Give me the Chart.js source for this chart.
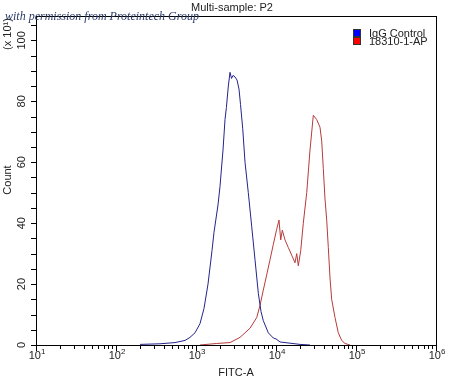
<!DOCTYPE html>
<html>
<head>
<meta charset="utf-8">
<script src="https://cdn.jsdelivr.net/npm/chart.js@4.4.1/dist/chart.umd.min.js"></script>
<style>
  html, body { margin: 0; padding: 0; background: #fff; }
  #wrap { width: 450px; height: 378px; position: relative; }
</style>
</head>
<body>
<div id="wrap"><canvas id="histChart" width="450" height="378"></canvas></div>
<script>
// IgG Control histogram (FITC-A value, count / 10)
const iggX = [200, 355, 546, 729, 841, 972, 1122, 1259, 1413, 1585, 1679, 1884, 1995, 2176, 2305, 2400,
  2535, 2661, 2780, 2901, 3073, 3255, 3448, 3600, 3837, 4100, 4507, 4966, 5464, 6011, 6494, 6937,
  8017, 9253, 10000, 11220, 14962, 19953, 26607];
const iggCount = [0.2, 0.4, 0.8, 1.5, 2.5, 4, 7, 12, 20, 31, 37, 46, 52, 64, 74, 78,
  85, 89.5, 87.5, 88.5, 88, 87, 84, 79, 71, 60, 50, 39, 28, 17, 11, 8,
  4, 2.3, 2, 1, 0.6, 0.2, 0];

// 18310-1-AP histogram
const apX = [1122, 1816, 2661, 3548, 4732, 5740, 6310, 6937, 7650, 8414, 9253, 10200, 10902, 11450,
  11990, 12960, 14250, 15710, 17280, 18150, 19010, 20370, 21940, 24210, 26610, 29260, 32270,
  35480, 37250, 39010, 40970, 43040, 45080, 47320, 49660, 54640, 60120, 66220, 72860, 84140];
const apCount = [0, 0.5, 0.8, 2.5, 5.5, 9, 13, 18, 23, 28, 33, 38, 41, 34.5,
  37.7, 34.5, 32, 29.5, 27, 30, 26, 31, 40, 50, 64, 75.4, 74,
  71.5, 67, 58, 48, 41, 32, 22, 15, 9, 4, 1.5, 0.5, 0];

const seriesNames = ['IgG Control', '18310-1-AP'];
const xExponents = [1, 2, 3, 4, 5, 6];
const yTickLabels = [0, 20, 40, 60, 80, 100];

const FONT = "'Liberation Sans', Arial, sans-serif";

const axesPlugin = {
  id: 'facsAxes',
  afterDraw(chart) {
    const { ctx, chartArea: a, scales: { x, y } } = chart;
    ctx.save();
    ctx.strokeStyle = '#000';
    ctx.lineWidth = 1;
    ctx.strokeRect(a.left + 0.5, a.top + 0.5, a.right - a.left, a.bottom - a.top);

    // x ticks, major at decades
    ctx.beginPath();
    for (let e = 1; e <= 6; e++) {
      for (let k = 1; k <= 9; k++) {
        const v = k * Math.pow(10, e);
        if (v > 1e6) break;
        const px = Math.round(x.getPixelForValue(v)) + 0.5;
        const len = k === 1 ? 6 : 4;
        ctx.moveTo(px, a.bottom);
        ctx.lineTo(px, a.bottom + len);
      }
    }
    // y ticks every 5
    for (let v = 0; v <= 105; v += 5) {
      const py = Math.round(y.getPixelForValue(v)) + 0.5;
      ctx.moveTo(a.left, py);
      ctx.lineTo(a.left - 5, py);
    }
    ctx.stroke();

    ctx.fillStyle = '#222';
    // x tick labels 10^n
    xExponents.forEach(e => {
      const px = x.getPixelForValue(Math.pow(10, e));
      ctx.font = '11px ' + FONT;
      const w1 = ctx.measureText('10').width;
      ctx.font = '8px ' + FONT;
      const w2 = ctx.measureText(String(e)).width;
      const start = px + 1 - (w1 + w2) / 2;
      ctx.textAlign = 'left';
      ctx.textBaseline = 'alphabetic';
      ctx.font = '11px ' + FONT;
      ctx.fillText('10', start, 359);
      ctx.font = '8px ' + FONT;
      ctx.fillText(String(e), start + w1, 354);
    });

    // y tick labels, rotated
    ctx.font = '11px ' + FONT;
    ctx.textAlign = 'center';
    ctx.textBaseline = 'middle';
    yTickLabels.forEach(v => {
      const py = y.getPixelForValue(v);
      ctx.save();
      ctx.translate(22, py);
      ctx.rotate(-Math.PI / 2);
      ctx.fillText(String(v), 0, 0);
      ctx.restore();
    });

    // axis titles
    ctx.textBaseline = 'alphabetic';
    ctx.fillText('FITC-A', 236, 376);
    ctx.save();
    ctx.translate(11, 180);
    ctx.rotate(-Math.PI / 2);
    ctx.fillText('Count', 0, 0);
    ctx.restore();
    ctx.save();
    ctx.translate(11, 34);
    ctx.rotate(-Math.PI / 2);
    ctx.fillText('(x 10¹)', 0, 0);
    ctx.restore();

    // title
    ctx.fillText('Multi-sample: P2', 232, 11);

    // legend
    const legendColors = ['#0000ff', '#ff0000'];
    seriesNames.forEach((name, i) => {
      const top = 29 + i * 8;
      ctx.fillStyle = legendColors[i];
      ctx.fillRect(353, top, 8, 8);
      ctx.strokeStyle = '#333';
      ctx.strokeRect(353.5, top + 0.5, 7, 7);
      ctx.fillStyle = '#222';
      ctx.textAlign = 'left';
      ctx.textBaseline = 'middle';
      ctx.fillText(name, 369, top + 4.5);
    });

    // watermark
    ctx.font = "italic 12px 'Liberation Serif', serif";
    ctx.fillStyle = '#2b3a66';
    ctx.textAlign = 'left';
    ctx.textBaseline = 'alphabetic';
    ctx.fillText('with permission from Proteintech Group', 5, 20);
    ctx.restore();
  }
};

const ctx = document.getElementById('histChart');
new Chart(ctx, {
  type: 'scatter',
  data: {
    datasets: [
      {
        label: seriesNames[0],
        data: iggX.map((v, i) => ({ x: v, y: iggCount[i] })),
        showLine: true,
        borderColor: '#23238c',
        borderWidth: 1,
        pointRadius: 0,
        tension: 0
      },
      {
        label: seriesNames[1],
        data: apX.map((v, i) => ({ x: v, y: apCount[i] })),
        showLine: true,
        borderColor: '#b83a3a',
        borderWidth: 1,
        pointRadius: 0,
        tension: 0
      }
    ]
  },
  options: {
    responsive: false,
    animation: false,
    layout: { padding: { left: 36, top: 16, right: 14, bottom: 33 } },
    plugins: { legend: { display: false }, tooltip: { enabled: false } },
    scales: {
      x: { type: 'logarithmic', min: 10, max: 1e6, display: false },
      y: { type: 'linear', min: 0, max: 108, display: false }
    }
  },
  plugins: [axesPlugin]
});
</script>
</body>
</html>
